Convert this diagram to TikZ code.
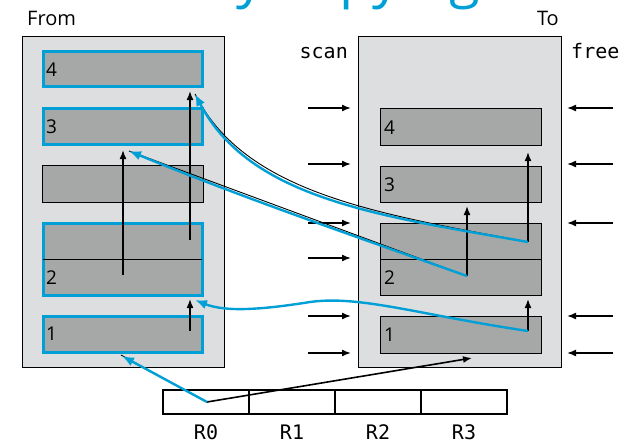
\documentclass[tikz,border=0pt]{standalone}
\usepackage{fontspec}
\setmainfont{Open Sans}
\newfontfamily\gcmono{DejaVu Sans Mono}
\usetikzlibrary{arrows.meta}
\definecolor{gcblue}{RGB}{0,160,214}
\definecolor{spacefill}{RGB}{221,222,224}
\definecolor{objfill}{RGB}{166,168,167}
\begin{document}
\begin{tikzpicture}[x=1pt,y=-1pt,
  space/.style={draw=black, line width=0.9pt, fill=spacefill, anchor=north west, inner sep=0pt},
  objbox/.style={draw=black, line width=1pt, fill=objfill, inner sep=0pt},
  livebox/.style={draw=gcblue, line width=3pt, fill=objfill, inner sep=0pt},
  digit/.style={anchor=west, inner sep=0pt, font=\fontsize{19}{19}\selectfont},
  lbl/.style={inner sep=0pt, font=\fontsize{20}{20}\selectfont},
  mono/.style={inner sep=0pt, font=\gcmono\fontsize{20}{20}\selectfont},
  regcell/.style={draw=black, line width=1.5pt, fill=white, minimum width=86pt, minimum height=24pt, inner sep=0pt},
  ptr/.style={draw=black, line width=1.6pt, -{Latex[length=9pt,width=7pt]}},
  fwd/.style={draw=gcblue, line width=2.4pt, -{Latex[length=12pt,width=9.5pt]}},
  under/.style={draw=black, line width=0.9pt}]
\useasboundingbox (0,0) rectangle (628,444);

% title (cut off at the top)
\node[anchor=base west, inner sep=0pt, text=gcblue, font=\fontsize{56}{56}\selectfont] (title) at (70,-3) {Cheney copying GC};

% labels
\node[lbl, anchor=base west] (fromlbl) at (27,26) {From};
\node[lbl, anchor=base east] (tolbl) at (559,26) {To};
\node[mono, anchor=base east] (scanlbl) at (348,58) {scan};
\node[mono, anchor=base west] (freelbl) at (571,58) {free};

% semispaces
\node[space, minimum width=202pt, minimum height=331pt] (fromsp) at (22,36) {};
\node[space, minimum width=203pt, minimum height=331pt] (tosp) at (358,36) {};

% from-space objects
\node[livebox, minimum width=159pt, minimum height=35pt] (F4) at (123,69) {};
\node[livebox, minimum width=159pt, minimum height=36pt] (F3) at (123,126.5) {};
\node[objbox, minimum width=161pt, minimum height=37pt] (F0) at (123,184) {};
\node[livebox, minimum width=159pt, minimum height=72pt] (F2) at (123,259.5) {};
\draw[black, line width=1pt] (43,259) -- (202,259);
\node[livebox, minimum width=159pt, minimum height=36pt] (F1) at (123,334.5) {};
\node[digit] at (46,70) {4};
\node[digit] at (46,127) {3};
\node[digit] at (46,278) {2};
\node[digit] at (46,334) {1};

% to-space objects
\node[objbox, minimum width=161pt, minimum height=37pt] (T4) at (461,127) {};
\node[objbox, minimum width=161pt, minimum height=36pt] (T3) at (461,184.5) {};
\node[objbox, minimum width=161pt, minimum height=72pt] (T2) at (461,259.5) {};
\draw[black, line width=1pt] (T2.west |- 0,259) -- (T2.east |- 0,259);
\node[objbox, minimum width=161pt, minimum height=37pt] (T1) at (461,335) {};
\node[digit] at (384,128) {4};
\node[digit] at (384,185) {3};
\node[digit] at (384,278) {2};
\node[digit] at (384,335) {1};

% registers
\node[regcell] (R0) at (206,402) {};
\node[regcell] (R1) at (292,402) {};
\node[regcell] (R2) at (378,402) {};
\node[regcell] (R3) at (464,402) {};
\node[mono, anchor=base] at (206,439) {R0};
\node[mono, anchor=base] at (292,439) {R1};
\node[mono, anchor=base] at (378,439) {R2};
\node[mono, anchor=base] at (464,439) {R3};

% scan / free pointers
\foreach \i/\y in {1/108,2/164,3/223,4/258,5/316,6/353}{
  \coordinate (sa\i) at (308,\y);
  \coordinate (sb\i) at (351,\y);
  \draw[ptr] (sa\i) -- (sb\i);
}
\foreach \i/\y in {1/108,2/164,3/223,5/316,6/353}{
  \coordinate (fa\i) at (613,\y);
  \coordinate (fb\i) at (567,\y);
  \draw[ptr] (fa\i) -- (fb\i);
}

% pointer coordinates
\coordinate (p1) at (123,275);  \coordinate (q1) at (123,150);
\coordinate (p2) at (190,240);  \coordinate (q2) at (190,91);
\coordinate (p3) at (190,331);  \coordinate (q3) at (190,299);
\coordinate (t1) at (528,242);  \coordinate (u1) at (528,152);
\coordinate (t2) at (467,276);  \coordinate (u2) at (467,206);
\coordinate (t3) at (528,331);  \coordinate (u3) at (528,299);
\coordinate (rr) at (207,402);  \coordinate (ru) at (472,358);
\coordinate (fA) at (195,94);
\coordinate (fB) at (129,151);
\coordinate (fC) at (195,300);
\coordinate (fD) at (121,355);

% faint black lines under forwarding curves
\draw[under] (t1) .. controls (380,214) and (245,194) .. (fA);
\draw[under] (t2) -- (fB);
\draw[under] (rr) -- (fD);

% black pointers inside objects
\draw[ptr] (p1) -- (q1);
\draw[ptr] (p2) -- (q2);
\draw[ptr] (p3) -- (q3);
\draw[ptr] (t1) -- (u1);
\draw[ptr] (t2) -- (u2);
\draw[ptr] (t3) -- (u3);
\draw[ptr] (rr) -- (ru);

% forwarding (blue) curves
\draw[fwd] (t1) .. controls (380,216) and (250,199) .. (fA);
\draw[fwd] (t2) .. controls (354,236) and (241,197) .. (fB);
\draw[fwd] (t3) .. controls (420,315) and (360,295) .. (310,302) .. controls (260,310) and (225,312) .. (fC);
\draw[fwd] (rr) -- ([xshift=1pt,yshift=-1pt]fD);
\end{tikzpicture}
\end{document}
